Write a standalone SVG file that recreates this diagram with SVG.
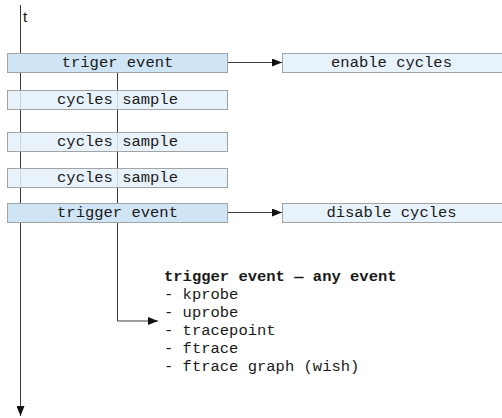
<svg xmlns="http://www.w3.org/2000/svg" width="502" height="418" viewBox="0 0 502 418">
  <style>
    .box { stroke: #a3a3a3; stroke-width: 1; }
    .dark { fill: #cfe4f4; }
    .light { fill: #e3f0f9; fill-opacity: 0.85; }
    .lbl { font-family: "Liberation Mono", "Courier New", monospace; font-size: 15.5px; fill: #1a1a1a; text-anchor: middle; }
    .note { font-family: "Liberation Mono", "Courier New", monospace; font-size: 15.5px; fill: #1a1a1a; }
    .wire { stroke: #3a3a3a; stroke-width: 1; fill: none; }
  </style>
  <defs>
    <marker id="arr" viewBox="0 0 10 8" refX="10" refY="4" markerWidth="10" markerHeight="8" markerUnits="userSpaceOnUse" orient="auto">
      <path d="M0,0 L10,4 L0,8 Z" fill="#111"/>
    </marker>
  </defs>
  <rect width="502" height="418" fill="#ffffff"/>

  <!-- connectors -->
  <g id="connectors">
    <line class="wire" x1="20.5" y1="5" x2="20.5" y2="416" marker-end="url(#arr)"/>
    <polyline class="wire" points="117.5,72 117.5,321 158,321" marker-end="url(#arr)"/>
    <line class="wire" x1="228" y1="62.5" x2="282" y2="62.5" marker-end="url(#arr)"/>
    <line class="wire" x1="228" y1="212.5" x2="282" y2="212.5" marker-end="url(#arr)"/>
  </g>

  <text x="23" y="22" font-family="Liberation Sans, Arial, sans-serif" font-size="15" fill="#111">t</text>

  <g id="trigger1">
    <rect class="box dark" x="7.5" y="53.5" width="220" height="19"/>
    <text class="lbl" x="117.5" y="67">triger event</text>
  </g>
  <g id="sample1">
    <rect class="box light" x="7.5" y="90.5" width="220" height="19"/>
    <text class="lbl" x="117.5" y="104">cycles sample</text>
  </g>
  <g id="sample2">
    <rect class="box light" x="7.5" y="132.5" width="220" height="19"/>
    <text class="lbl" x="117.5" y="146">cycles sample</text>
  </g>
  <g id="sample3">
    <rect class="box light" x="7.5" y="168.5" width="220" height="19"/>
    <text class="lbl" x="117.5" y="182">cycles sample</text>
  </g>
  <g id="trigger2">
    <rect class="box dark" x="7.5" y="203.5" width="220" height="19"/>
    <text class="lbl" x="117.5" y="217">trigger event</text>
  </g>
  <g id="enable">
    <rect class="box light" x="282.5" y="53.5" width="222" height="19"/>
    <text class="lbl" x="391.5" y="67">enable cycles</text>
  </g>
  <g id="disable">
    <rect class="box light" x="282.5" y="203.5" width="222" height="19"/>
    <text class="lbl" x="391.5" y="217">disable cycles</text>
  </g>

  <g id="event-list">
    <text class="note" x="164" y="281" font-weight="bold">trigger event — any event</text>
    <text class="note" x="164" y="299">- kprobe</text>
    <text class="note" x="164" y="317">- uprobe</text>
    <text class="note" x="164" y="335">- tracepoint</text>
    <text class="note" x="164" y="353">- ftrace</text>
    <text class="note" x="164" y="371">- ftrace graph (wish)</text>
  </g>
</svg>
